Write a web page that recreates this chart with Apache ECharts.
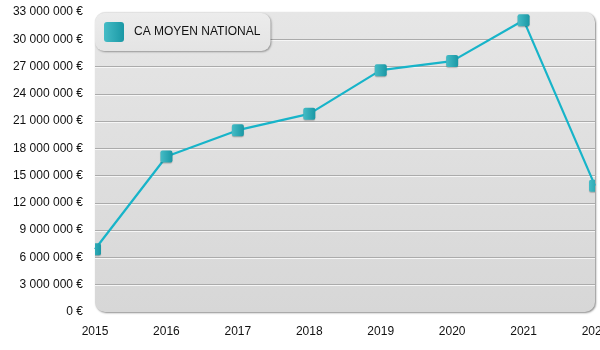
<!DOCTYPE html>
<html>
<head>
<meta charset="utf-8">
<script src="https://cdn.jsdelivr.net/npm/echarts@6/dist/echarts.min.js"></script>
<style>
  html, body { margin: 0; padding: 0; background: #fff; }
  #chart { width: 600px; height: 350px; }
</style>
</head>
<body>
<div id="chart"></div>
<script>
// Average national turnover per year (euros)
const years = ['2015', '2016', '2017', '2018', '2019', '2020', '2021', '2022'];
const caMoyen = [6900000, 17100000, 20000000, 21800000, 26600000, 27600000, 32100000, 13900000];
const seriesName = 'CA MOYEN NATIONAL';
const yMin = 0;
const yMax = 33000000;
const yStep = 3000000;

const GRID = { left: 95, right: 5, top: 12, bottom: 38 };
const W = 600, H = 350;

function euro(v) {
  return String(Math.round(v)).replace(/\B(?=(\d{3})+(?!\d))/g, ' ') + ' €';
}

function markerFill() {
  return new echarts.graphic.LinearGradient(0, 0, 1, 0, [
    { offset: 0, color: '#45bcc6' },
    { offset: 1, color: '#1a98a5' }
  ]);
}

const chart = echarts.init(document.getElementById('chart'), null, { renderer: 'canvas' });

chart.setOption({
  animation: false,
  textStyle: { fontFamily: 'Liberation Sans, Arial, sans-serif' },
  graphic: [{
    type: 'rect',
    z: -10,
    silent: true,
    shape: { x: GRID.left, y: GRID.top, width: W - GRID.left - GRID.right, height: H - GRID.top - GRID.bottom, r: 10 },
    style: {
      fill: new echarts.graphic.LinearGradient(0, 0, 0, 1, [
        { offset: 0, color: '#e6e6e6' },
        { offset: 1, color: '#d7d7d7' }
      ]),
      shadowColor: 'rgba(0,0,0,0.45)',
      shadowBlur: 2,
      shadowOffsetX: 1,
      shadowOffsetY: 1
    }
  }],
  legend: {
    left: 95,
    top: 13,
    padding: [9, 10, 9, 9],
    itemWidth: 20,
    itemHeight: 20,
    itemGap: 10,
    backgroundColor: new echarts.graphic.LinearGradient(0, 0, 0, 1, [
      { offset: 0, color: '#ececec' },
      { offset: 1, color: '#e4e4e4' }
    ]),
    borderRadius: 9,
    shadowColor: 'rgba(0,0,0,0.35)',
    shadowBlur: 2,
    shadowOffsetX: 1,
    shadowOffsetY: 1,
    textStyle: { fontSize: 12, color: '#111', padding: [0, 0, 0, 5], fontFamily: 'Liberation Sans, Arial, sans-serif' },
    data: [{
      name: seriesName,
      icon: 'path://M3,0 H17 Q20,0 20,3 V17 Q20,20 17,20 H3 Q0,20 0,17 V3 Q0,0 3,0 Z',
      itemStyle: { color: markerFill() }
    }]
  },
  grid: Object.assign({ outerBoundsMode: 'none', containLabel: false }, GRID),
  xAxis: {
    type: 'category',
    data: years,
    boundaryGap: false,
    axisLine: { show: false },
    axisTick: { show: false },
    axisLabel: { color: '#111', fontSize: 12, margin: 14, hideOverlap: false },
    splitLine: { show: false }
  },
  yAxis: {
    type: 'value',
    min: yMin,
    max: yMax,
    interval: yStep,
    axisLine: { show: false },
    axisTick: { show: false },
    axisLabel: { color: '#111', fontSize: 12, margin: 12, formatter: euro },
    splitLine: {
      show: true,
      showMinLine: false,
      showMaxLine: false,
      lineStyle: { color: '#ababab', width: 1, shadowColor: '#f6f6f6', shadowOffsetY: 1, shadowBlur: 0 }
    }
  },
  series: [
    {
      name: seriesName,
      type: 'line',
      data: caMoyen,
      symbol: 'none',
      clip: true,
      lineStyle: { color: '#17b4c9', width: 2.2 },
      z: 2
    },
    {
      name: seriesName,
      type: 'custom',
      clip: true,
      data: years.map((y, i) => [i, caMoyen[i]]),
      z: 3,
      renderItem: function (params, api) {
        const p = api.coord([api.value(0), api.value(1)]);
        return {
          type: 'rect',
          shape: { x: p[0] - 6, y: p[1] - 6, width: 12, height: 12, r: 2 },
          style: {
            fill: markerFill(),
            shadowColor: 'rgba(0,0,0,0.25)',
            shadowBlur: 1,
            shadowOffsetY: 1
          }
        };
      }
    }
  ]
});
</script>
</body>
</html>
